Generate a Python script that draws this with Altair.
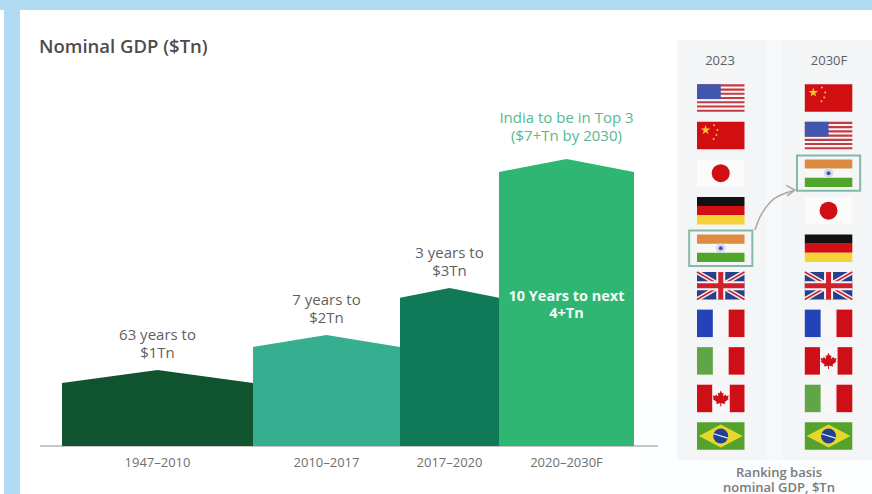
import altair as alt
import pandas as pd

# GDP milestones: start and end year of each period and the level reached
PERIOD_LABELS = ["1947–2010", "2010–2017", "2017–2020", "2020–2030F"]
PERIOD_START = [1947, 2010, 2017, 2020]
PERIOD_END = [2010, 2017, 2020, 2030]
PEAK_TN = [1, 2, 3, 7]
SHOULDER_TN = [0.83, 1.66, 2.79, 6.6]
PERIOD_FILL = ["#10532f", "#36ae90", "#107a58", "#2fb673"]
CALLOUTS = ["63 years to\n$1Tn", "7 years to\n$2Tn", "3 years to\n$3Tn"]

# Country rankings
RANK_2023 = ["USA", "China", "Japan", "Germany", "India", "UK", "France", "Italy", "Canada", "Brazil"]
RANK_2030 = ["China", "USA", "India", "Japan", "Germany", "UK", "France", "Canada", "Italy", "Brazil"]

# Axis breaks of the stylised (non-proportional) chart
YEAR_BREAKS = [1947, 2010, 2017, 2020, 2030]
YEAR_RANGE = [62, 253, 400, 499, 634]
TN_BREAKS = [0, 1, 2, 3, 7]
TN_RANGE = [446, 370, 335, 288, 159]

x_year = alt.Scale(domain=YEAR_BREAKS, range=YEAR_RANGE, nice=False, zero=False)
y_tn = alt.Scale(domain=TN_BREAKS, range=TN_RANGE, nice=False, zero=False)

FONT = "Open Sans"
GREY = "#6f6f6f"

# ---------- bars with a pitched top ----------
bar_rows = []
for label, start, end, peak, shoulder, fill in zip(
    PERIOD_LABELS, PERIOD_START, PERIOD_END, PEAK_TN, SHOULDER_TN, PERIOD_FILL
):
    for year, tn in ((start, shoulder), ((start + end) / 2, peak), (end, shoulder)):
        bar_rows.append({"period": label, "year": year, "tn": tn, "base": 0, "fill": fill})
bars = (
    alt.Chart(pd.DataFrame(bar_rows))
    .mark_area(interpolate="linear", line=False, opacity=1)
    .encode(
        x=alt.X("year:Q", scale=x_year, axis=None),
        y=alt.Y("tn:Q", scale=y_tn, axis=None, stack=None),
        y2="base:Q",
        color=alt.Color("fill:N", scale=None),
    )
)

mids = [(a + b) / 2 for a, b in zip(PERIOD_START, PERIOD_END)]
text_df = pd.DataFrame({"year": mids, "tn": PEAK_TN, "label": PERIOD_LABELS})
enc_x = alt.X("year:Q", scale=x_year, axis=None)
enc_y = alt.Y("tn:Q", scale=y_tn, axis=None)

period_ticks = (
    alt.Chart(text_df.assign(tn=0))
    .mark_text(font=FONT, fontSize=13, fontWeight=500, color=GREY, baseline="middle", dy=17)
    .encode(x=enc_x, y=enc_y, text="label:N")
)
callouts = (
    alt.Chart(text_df.iloc[:3].assign(note=CALLOUTS))
    .mark_text(font=FONT, fontSize=15, color="#5f5f5f", baseline="bottom", dy=-27,
               lineBreak="\n", lineHeight=18)
    .encode(x=enc_x, y=enc_y, text="note:N")
)
top3 = (
    alt.Chart(text_df.iloc[[3]].assign(note="India to be in Top 3\n($7+Tn by 2030)"))
    .mark_text(font=FONT, fontSize=15, color="#55b98f", baseline="bottom", dy=-33,
               lineBreak="\n", lineHeight=18)
    .encode(x=enc_x, y=enc_y, text="note:N")
)
inside = (
    alt.Chart(text_df.iloc[[3]].assign(note="10 Years to next\n4+Tn", tn=3))
    .mark_text(font=FONT, fontSize=14.5, fontWeight="bold", color="#f4fbf7", baseline="top", dy=2,
               lineBreak="\n", lineHeight=17)
    .encode(x=enc_x, y=enc_y, text="note:N")
)
baseline = (
    alt.Chart(pd.DataFrame({"a": [0]}))
    .mark_rule(color="#b4b4b4", strokeWidth=1.5)
    .encode(x=alt.value(40), x2=alt.value(658), y=alt.value(446))
)

# ---------- page furniture ----------
def band(x0, x1, y0, y1, colour):
    return (
        alt.Chart(pd.DataFrame({"a": [0]}))
        .mark_rect(color=colour)
        .encode(x=alt.value(x0), x2=alt.value(x1), y=alt.value(y0), y2=alt.value(y1))
    )

def note(text, x, y, size, colour, weight="normal", align="center"):
    return (
        alt.Chart(pd.DataFrame({"t": [text]}))
        .mark_text(font=FONT, fontSize=size, color=colour, fontWeight=weight, align=align, lineBreak="\n", lineHeight=15)
        .encode(x=alt.value(x), y=alt.value(y), text="t:N")
    )

furniture = [
    band(0, 872, 0, 10, "#b0dbf3"),
    band(4, 20, 10, 494, "#b0dbf3"),
    band(640, 872, 400, 494, "#fcfdfe"),
    band(677, 872, 40, 460, "#f7f8fa"),
    band(677, 766, 40, 460, "#f3f5f6"),
    band(782, 872, 40, 460, "#f3f5f6"),
]

# ---------- flags, defined on a unit square ----------
RED, WHITE = "#cf0f18", "#f7f7f7"
rects = {
    "USA": [(0, 1, 0, 1, WHITE)]
    + [(0, 1, i * 2 / 13, (i * 2 + 1) / 13, "#c43a45") for i in range(7)]
    + [(0, 0.5, 0, 7 / 13, "#3f58ad")],
    "China": [(0, 1, 0, 1, "#d10f12")],
    "Japan": [(0, 1, 0, 1, "#fbfbfb")],
    "Germany": [(0, 1, 0, 1 / 3, "#111111"), (0, 1, 1 / 3, 2 / 3, "#d20f14"), (0, 1, 2 / 3, 1, "#f5d235")],
    "India": [(0, 1, 0, 1, WHITE), (0, 1, 0, 1 / 3, "#dc8b40"), (0, 1, 2 / 3, 1, "#4fa62b")],
    "UK": [(0, 1, 0, 1, "#26408a")],
    "France": [(0, 1, 0, 1, WHITE), (0, 1 / 3, 0, 1, "#2443b8"), (2 / 3, 1, 0, 1, RED)],
    "Italy": [(0, 1, 0, 1, WHITE), (0, 1 / 3, 0, 1, "#60a548"), (2 / 3, 1, 0, 1, RED)],
    "Canada": [(0, 1, 0, 1, WHITE), (0, 0.32, 0, 1, RED), (0.69, 1, 0, 1, RED)],
    "Brazil": [(0, 1, 0, 1, "#55a32c")],
}
STAR = "M0,-1L0.22,-0.31L0.95,-0.31L0.36,0.12L0.59,0.81L0,0.38L-0.59,0.81L-0.36,0.12L-0.95,-0.31L-0.22,-0.31Z"
LEAF = ("M0,-1L0.18,-0.62L0.36,-0.72L0.3,-0.25L0.6,-0.5L0.68,-0.3L1,-0.36L0.88,-0.02L1,0.08L0.5,0.45L0.58,0.68"
        "L0.06,0.6L0.06,1L-0.06,1L-0.06,0.6L-0.58,0.68L-0.5,0.45L-1,0.08L-0.88,-0.02L-1,-0.36L-0.68,-0.3L-0.6,-0.5"
        "L-0.3,-0.25L-0.36,-0.72L-0.18,-0.62Z")
CIRCLE = "circle"
symbols = {
    "China": [(0.18, 0.3, STAR, 100, "#f5c52f"), (0.36, 0.12, CIRCLE, 4, "#f5c52f"), (0.43, 0.3, CIRCLE, 4, "#f5c52f"),
              (0.41, 0.48, CIRCLE, 4, "#f5c52f"), (0.35, 0.62, CIRCLE, 4, "#f5c52f")],
    "Japan": [(0.5, 0.5, CIRCLE, 324, "#d00f12")],
    "India": [(0.5, 0.5, CIRCLE, 90, "#d5d8ee"), (0.5, 0.5, CIRCLE, 16, "#4652ae")],
    "Canada": [(0.5, 0.5, LEAF, 260, RED)],
    "Brazil": [(0.5, 0.5, CIRCLE, 225, "#203f96")],
}
UK_STROKES = [
    (0, 1, 0, 1, "#f4f4f4", 4.5), (0, 1, 1, 0, "#f4f4f4", 4.5),
    (0, 1, 0, 1, "#d0202c", 1.6), (0, 1, 1, 0, "#d0202c", 1.6),
    (0.5, 0.5, 0, 1, "#f4f4f4", 9), (0, 1, 0.5, 0.5, "#f4f4f4", 9),
    (0.5, 0.5, 0, 1, "#d0202c", 5), (0, 1, 0.5, 0.5, "#d0202c", 5),
]
BRAZIL_STROKES = [(0.35, 0.65, 0.42, 0.58, "#e8eef0", 1.2)]

# A flag is one unit wide; columns are 2.27 flag widths apart, rows are one unit apart
COL_PITCH = 2.27
FLAG_H = 0.732
x_flag = alt.Scale(domain=[0, 3.27], range=[697, 852.3], nice=False, zero=False)
y_flag = alt.Scale(domain=[0, 10], range=[84.3, 459.8], nice=False, zero=False)

def fx(col, f):
    return col * COL_PITCH + f

def fy(rank, f):
    return rank + f * FLAG_H

rect_rows, sym_rows, stroke_rows, diamond_rows = [], [], [], []
for col, ranking in enumerate((RANK_2023, RANK_2030)):
    for rank, country in enumerate(ranking):
        for u0, u1, v0, v1, c in rects[country]:
            rect_rows.append({"x": fx(col, u0), "x2": fx(col, u1), "y": fy(rank, v0), "y2": fy(rank, v1), "c": c,
                              "seq": len(rect_rows)})
        if country == "Brazil":
            key = f"{col}-{rank}"
            for u, half in ((0.04, 0), (0.5, 0.42), (0.96, 0)):
                diamond_rows.append({"k": key, "x": fx(col, u), "y": fy(rank, 0.5 - half), "y2": fy(rank, 0.5 + half)})
        for u, v, shape, size, c in symbols.get(country, []):
            sym_rows.append({"x": fx(col, u), "y": fy(rank, v), "shape": shape, "size": size, "c": c, "seq": len(sym_rows)})
        for u0, u1, v0, v1, c, w in {"UK": UK_STROKES, "Brazil": BRAZIL_STROKES}.get(country, []):
            stroke_rows.append({"x": fx(col, u0), "x2": fx(col, u1), "y": fy(rank, v0), "y2": fy(rank, v1),
                                "c": c, "w": w, "seq": len(stroke_rows)})

X = alt.X("x:Q", scale=x_flag, axis=None)
Y = alt.Y("y:Q", scale=y_flag, axis=None)
flag_rects = (
    alt.Chart(pd.DataFrame(rect_rows)).mark_rect()
    .encode(x=X, x2="x2:Q", y=Y, y2="y2:Q", color=alt.Color("c:N", scale=None), order="seq:Q")
)
diamonds = (
    alt.Chart(pd.DataFrame(diamond_rows)).mark_area(color="#e6d72c", opacity=1)
    .encode(x=X, y=alt.Y("y:Q", scale=y_flag, axis=None, stack=None), y2="y2:Q", detail="k:N")
)
flag_strokes = (
    alt.Chart(pd.DataFrame(stroke_rows)).mark_rule()
    .encode(x=X, x2="x2:Q", y=Y, y2="y2:Q", color=alt.Color("c:N", scale=None),
            strokeWidth=alt.StrokeWidth("w:Q", scale=None), order="seq:Q")
)
flag_symbols = (
    alt.Chart(pd.DataFrame(sym_rows)).mark_point(filled=True, opacity=1)
    .encode(x=X, y=Y, shape=alt.Shape("shape:N", scale=None), size=alt.Size("size:Q", scale=None),
            color=alt.Color("c:N", scale=None), order="seq:Q")
)

# Boxes round India in both rankings, joined by a curved arrow
boxes = pd.DataFrame([
    {"x": fx(col, -0.165), "x2": fx(col, 1.165), "y": fy(r.index("India"), -0.145), "y2": fy(r.index("India"), 1.145)}
    for col, r in enumerate((RANK_2023, RANK_2030))
])
india_boxes = (
    alt.Chart(boxes).mark_rect(fill="transparent", stroke="#86b9a5", strokeWidth=2)
    .encode(x=X, x2="x2:Q", y=Y, y2="y2:Q")
)
arrow_curve = pd.DataFrame({"x": [1.22, 1.37, 1.64, 2.06], "y": [3.88, 3.43, 3.03, 2.82]})
arrow_head = pd.DataFrame({"x": [1.88, 2.06, 1.9], "y": [2.69, 2.82, 2.97]})
arrow = alt.layer(
    alt.Chart(arrow_curve).mark_line(color="#a8a8a8", strokeWidth=1.5, interpolate="cardinal").encode(x=X, y=Y, order=alt.Order("x:Q")),
    alt.Chart(arrow_head).mark_line(color="#a8a8a8", strokeWidth=1.5).encode(x=X, y=Y, order=alt.Order("y:Q")),
)

labels = [
    note("Nominal GDP ($Tn)", 39, 47, 18.5, "#4d4d4d", weight=600, align="left"),
    note("2023", 720, 61, 13, "#5f5f5f", weight=500),
    note("2030F", 829, 61, 13, "#5f5f5f", weight=500),
    note("Ranking basis\nnominal GDP, $Tn", 779, 473, 13, "#7a7a7a", weight=600),
]

chart_layers = (
    furniture
    + [baseline, bars, period_ticks, callouts, top3, inside]
    + [flag_rects, diamonds, flag_symbols, flag_strokes, india_boxes, arrow]
    + labels
)

chart = (
    alt.layer(*chart_layers)
    .resolve_scale(x="independent", y="independent", color="independent",
                   size="independent", shape="independent", strokeWidth="independent")
    .properties(width=872, height=494, padding=0,
                autosize=alt.AutoSizeParams(type="none"), background="white")
    .configure_view(stroke=None)
)

chart.save("out.html", embed_options={"renderer": "svg", "actions": False})
